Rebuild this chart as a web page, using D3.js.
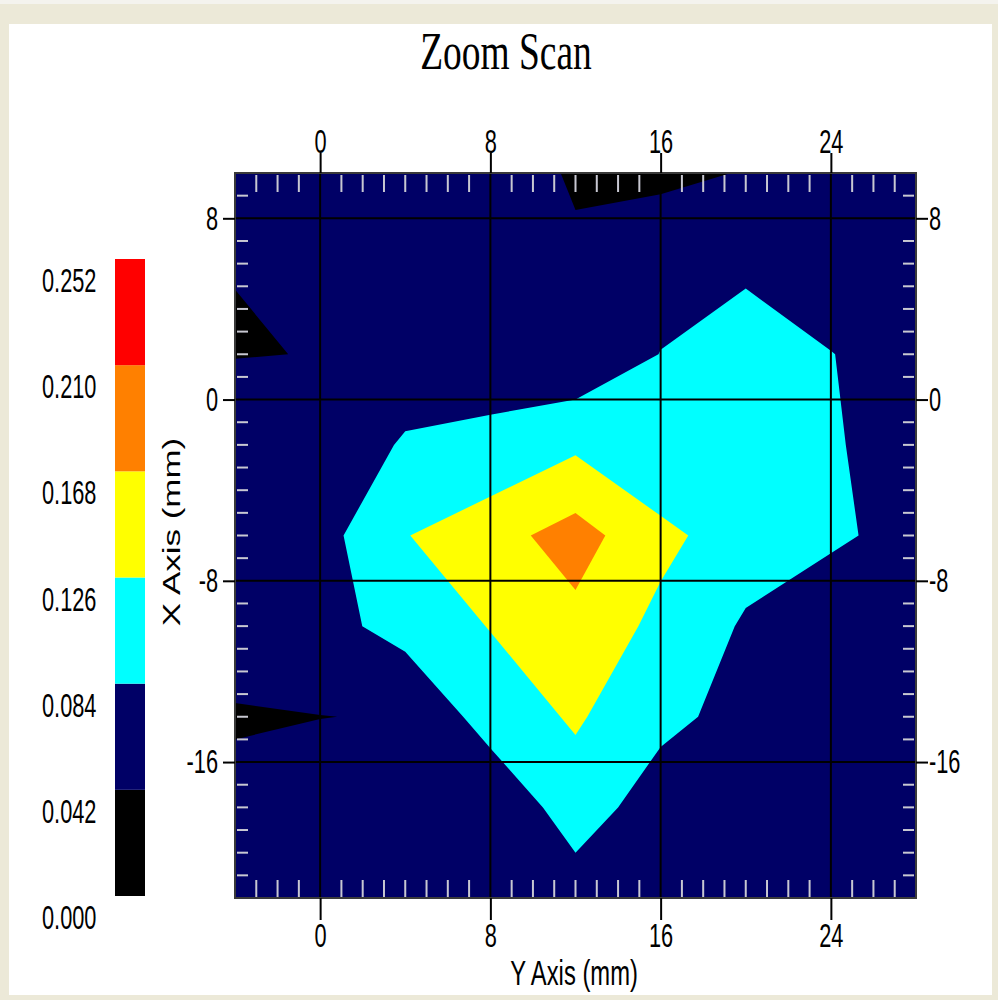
<!DOCTYPE html>
<html>
<head>
<meta charset="utf-8">
<script src="https://cdn.jsdelivr.net/npm/d3@7"></script>
<style>
html, body { margin: 0; padding: 0; background: #ece9d8; }
svg { display: block; }
</style>
</head>
<body>
<svg id="chart"></svg>
<script>
// measurement grid positions (mm)
const colMM = [-4, 0, 4, 8, 12, 16, 20, 24, 28];          // horizontal "Y Axis"
const rowMM = [10, 6, 2, -2, -6, -10, -14, -18, -22];     // vertical "X Axis", top to bottom

// SAR values, one array per grid row (top to bottom)
const sarP10 = [0.065, 0.068, 0.066, 0.0609, 0.038, 0.0344, 0.0436, 0.055, 0.060];
const sarP6  = [0.0424, 0.055, 0.062, 0.060, 0.0478, 0.0669, 0.070, 0.0635, 0.058];
const sarP2  = [0.041, 0.0426, 0.0613, 0.0718, 0.0496, 0.0849, 0.1209, 0.0848, 0.0688];
const sarM2  = [0.061, 0.0578, 0.088, 0.0901, 0.1184, 0.085, 0.110, 0.087, 0.0699];
const sarM6  = [0.060, 0.0687, 0.1243, 0.1531, 0.1845, 0.1374, 0.1023, 0.092, 0.0674];
const sarM10 = [0.0533, 0.0685, 0.0998, 0.1276, 0.157, 0.115, 0.0794, 0.051, 0.055];
const sarM14 = [0.040, 0.0415, 0.044, 0.1028, 0.131, 0.095, 0.070, 0.062, 0.060];
const sarM18 = [0.048, 0.0615, 0.060, 0.0485, 0.106, 0.062, 0.065, 0.060, 0.058];
const sarM22 = [0.055, 0.060, 0.058, 0.055, 0.062, 0.058, 0.056, 0.055, 0.054];

// colour levels
const levels = [0.000, 0.042, 0.084, 0.126, 0.168, 0.210, 0.252];
const levelLabels = ['0.000', '0.042', '0.084', '0.126', '0.168', '0.210', '0.252'];
const levelColors = ['#000000', '#000066', '#00ffff', '#ffff00', '#ff8000', '#ff0000'];

// axis ticks
const hTicks = [0, 8, 16, 24];
const vTicks = [8, 0, -8, -16];

const W = 998, H = 1000;
const plot = { left: 235, right: 916, top: 173, bottom: 898 };
const sansFont = '"Liberation Sans", Arial, sans-serif';
const digitScale = 0.64;

const svg = d3.select('#chart').attr('width', W).attr('height', H);

// window frame
svg.append('rect').attr('width', W).attr('height', H).attr('fill', '#ece9d8');
svg.append('rect').attr('width', W).attr('height', 4).attr('fill', '#f4f3ee');
svg.append('rect').attr('x', 9).attr('y', 24).attr('width', 983).attr('height', 971).attr('fill', '#ffffff');

const x = d3.scaleLinear().domain([-4, 28]).range([plot.left, plot.right]);
const y = d3.scaleLinear().domain([10, -22]).range([plot.top, plot.bottom]);

// grid index -> mm (sample i sits at i + 0.5 in contour space)
const nCols = colMM.length, nRows = rowMM.length;
const gx = d3.scaleLinear().domain([0.5, nCols - 0.5]).range([colMM[0], colMM[nCols - 1]]);
const gy = d3.scaleLinear().domain([0.5, nRows - 0.5]).range([rowMM[0], rowMM[nRows - 1]]);

function txt(parent, tx, ty, str, anchor, sx, size, family) {
    return parent.append('text')
        .attr('transform', `translate(${tx},${ty}) scale(${sx},1)`)
        .attr('text-anchor', anchor)
        .style('font-family', family || sansFont)
        .style('font-size', (size || 34) + 'px')
        .attr('fill', '#000')
        .text(str);
}

// title
txt(svg, 506, 69, 'Zoom Scan', 'middle', 0.72, 52, '"Liberation Serif", "Times New Roman", serif');

// contours
const values = [].concat(sarP10, sarP6, sarP2, sarM2, sarM6, sarM10, sarM14, sarM18, sarM22);
const bands = d3.contours()
    .size([nCols, nRows])
    .thresholds(levels.slice(0, -1))(values);

const proj = d3.geoTransform({
    point(c, r) { this.stream.point(x(gx(c)), y(gy(r))); }
});
const path = d3.geoPath(proj);

svg.append('clipPath').attr('id', 'plot-clip')
    .append('rect')
    .attr('x', plot.left).attr('y', plot.top)
    .attr('width', plot.right - plot.left).attr('height', plot.bottom - plot.top);

svg.append('g').attr('clip-path', 'url(#plot-clip)')
    .selectAll('path')
    .data(bands)
    .enter().append('path')
    .attr('d', path)
    .attr('fill', (d, i) => levelColors[i])
    .attr('stroke', 'none');

// grid lines
const grid = svg.append('g');
grid.selectAll('.gv').data(hTicks).enter().append('line')
    .attr('x1', d => x(d)).attr('x2', d => x(d))
    .attr('y1', plot.top).attr('y2', plot.bottom)
    .attr('stroke', '#000').attr('stroke-width', 2);
grid.selectAll('.gh').data(vTicks).enter().append('line')
    .attr('y1', d => y(d)).attr('y2', d => y(d))
    .attr('x1', plot.left).attr('x2', plot.right)
    .attr('stroke', '#000').attr('stroke-width', 2);

// minor ticks every 1 mm inside the frame
const minorH = d3.range(-3, 28).filter(d => d % 8 !== 0);
const minorV = d3.range(-21, 10).filter(d => d % 8 !== 0);
const minor = svg.append('g').attr('stroke', '#c8c8d2').attr('stroke-width', 2);
minor.selectAll('.mt').data(minorH).enter().append('line')
    .attr('x1', d => x(d)).attr('x2', d => x(d))
    .attr('y1', plot.top + 2).attr('y2', plot.top + 19);
minor.selectAll('.mb').data(minorH).enter().append('line')
    .attr('x1', d => x(d)).attr('x2', d => x(d))
    .attr('y1', plot.bottom - 18).attr('y2', plot.bottom - 1);
minor.selectAll('.ml').data(minorV).enter().append('line')
    .attr('y1', d => y(d)).attr('y2', d => y(d))
    .attr('x1', plot.left + 2).attr('x2', plot.left + 13);
minor.selectAll('.mr').data(minorV).enter().append('line')
    .attr('y1', d => y(d)).attr('y2', d => y(d))
    .attr('x1', plot.right - 13).attr('x2', plot.right - 2);

// frame
svg.append('rect')
    .attr('x', plot.left).attr('y', plot.top)
    .attr('width', plot.right - plot.left).attr('height', plot.bottom - plot.top)
    .attr('fill', 'none').attr('stroke', '#3a3a3a').attr('stroke-width', 2);

// major axes
const fmt = d => String(d);
function styleAxis(g) {
    g.select('.domain').remove();
    g.selectAll('.tick line').attr('stroke', '#000').attr('stroke-width', 2);
    g.selectAll('.tick text')
        .style('font-family', sansFont)
        .style('font-size', '34px')
        .attr('fill', '#000');
}

svg.append('g').attr('transform', `translate(0,${plot.top})`)
    .call(d3.axisTop(x).tickValues(hTicks).tickSize(20).tickPadding(0).tickFormat(fmt))
    .call(styleAxis)
    .call(g => g.selectAll('.tick text').attr('transform', `scale(${digitScale},1)`));

svg.append('g').attr('transform', `translate(0,${plot.bottom})`)
    .call(d3.axisBottom(x).tickValues(hTicks).tickSize(22).tickPadding(3).tickFormat(fmt))
    .call(styleAxis)
    .call(g => g.selectAll('.tick text').attr('transform', `scale(${digitScale},1)`));

svg.append('g').attr('transform', `translate(${plot.left},0)`)
    .call(d3.axisLeft(y).tickValues(vTicks).tickSize(12).tickFormat(fmt))
    .call(styleAxis)
    .call(g => g.selectAll('.tick text')
        .attr('x', -17 / digitScale)
        .attr('transform', `scale(${digitScale},1)`));

svg.append('g').attr('transform', `translate(${plot.right},0)`)
    .call(d3.axisRight(y).tickValues(vTicks).tickSize(12).tickFormat(fmt))
    .call(styleAxis)
    .call(g => g.selectAll('.tick text')
        .attr('x', 13 / digitScale)
        .attr('transform', `scale(${digitScale},1)`));

// axis titles
txt(svg, 574, 985, 'Y Axis (mm)', 'middle', 0.68, 35);
svg.append('text')
    .attr('transform', 'translate(180,532) scale(0.68,1) rotate(-90)')
    .attr('text-anchor', 'middle')
    .style('font-family', sansFont)
    .style('font-size', '35px')
    .attr('fill', '#000')
    .text('X Axis (mm)');

// colour legend
const ly = d3.scaleLinear().domain([levels[0], levels[levels.length - 1]]).range([896, 259]);
const legend = svg.append('g');
legend.selectAll('rect')
    .data(levelColors)
    .enter().append('rect')
    .attr('x', 115)
    .attr('width', 30)
    .attr('y', (d, i) => ly(levels[i + 1]))
    .attr('height', (d, i) => ly(levels[i]) - ly(levels[i + 1]))
    .attr('fill', d => d);

levelLabels.forEach((lab, i) => {
    txt(legend, 42, ly(levels[i]) + 33, lab, 'start', digitScale, 34);
});
</script>
</body>
</html>
